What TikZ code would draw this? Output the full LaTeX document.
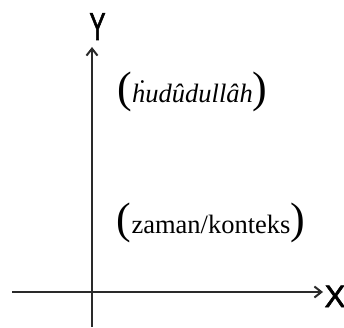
\documentclass[tikz,border=0pt]{standalone}
\usepackage{fontspec}
\usepackage{graphicx}
\setmainfont{Liberation Serif}
\newfontfamily\labelfont[FakeBold=2]{Liberation Sans}
\usetikzlibrary{arrows.meta,positioning}
\tikzset{every node/.append style={align=center, inner sep=0pt}}
\definecolor{axisgray}{HTML}{2A2A2A}
\newcommand{\bigparen}[1]{{\fontsize{44}{44}\selectfont #1}}

\begin{document}
\begin{tikzpicture}[x=1pt, y=-1pt, >={Straight Barb[length=7pt,width=11pt]},
    axis/.style={->, line width=2pt, draw=axisgray},
    axislabel/.style={anchor=base, font=\labelfont},
    term/.style={anchor=base, font=\fontsize{26.5}{30}\selectfont}]
  \useasboundingbox (0,0) rectangle (344,328);

  % axes
  \coordinate (xstart) at (12,292);
  \coordinate (xend) at (323,292);
  \coordinate (ystart) at (92,327);
  \coordinate (yend) at (92,47);
  \draw[axis] (xstart) -- (xend);
  \draw[axis] (ystart) -- (yend);

  \node[axislabel, font=\labelfont\fontsize{31}{31}\selectfont] (xlab) at (335,307) {X};
  \node[axislabel, font=\labelfont\fontsize{39}{39}\selectfont] (ylab) at (97.5,40) {\scalebox{0.62}[1]{Y}};

  % the two terms
  \node[term] (hudud) at (192.5,103) {\bigparen{(}\textit{ḣudûdullâh}\bigparen{)}};
  \node[term] (zaman) at (211,233) {\bigparen{(}zaman/konteks\bigparen{)}};
\end{tikzpicture}
\end{document}
